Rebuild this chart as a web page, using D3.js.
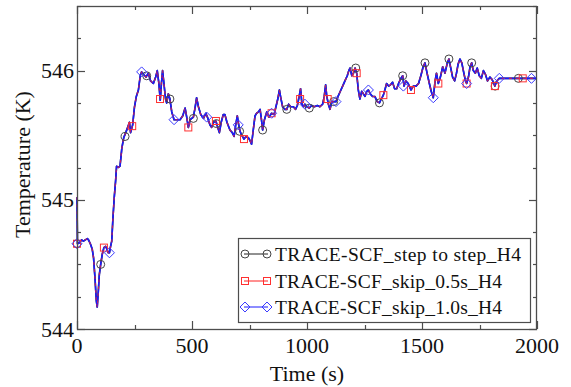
<!DOCTYPE html>
<html><head><meta charset="utf-8">
<script src="https://cdn.jsdelivr.net/npm/d3@7"></script>
<style>html,body{margin:0;padding:0;background:#fff;}svg{display:block;}</style>
</head><body><svg id="c" width="571" height="387"></svg>
<script>
// ---- data ----
const seriesNames = ["TRACE-SCF_step to step_H4", "TRACE-SCF_skip_0.5s_H4", "TRACE-SCF_skip_1.0s_H4"];
const seriesColors = ["#222222", "#ff2020", "#1a1aff"];
const xTicks = [0, 500, 1000, 1500, 2000];
const yTicks = [544, 545, 546];
const timeS = [0,2,12,20,28,36,45,50,58,66,72,78,84,88,93,97,103,110,117,124,130,136,141,146,151,156,162,168,172,180,187,195,203,212,220,228,233,242,250,258,267,275,281,290,300,310,320,332,342,349,356,362,367,372,378,385,390,397,404,412,422,435,448,460,470,477,484,492,506,514,520,528,538,550,560,567,578,585,594,604,612,619,627,636,643,652,665,675,683,690,697,703,709,716,726,735,745,752,759,767,774,781,789,796,802,807,815,825,835,846,857,865,873,880,887,894,903,912,920,929,941,950,958,966,972,978,985,991,1000,1010,1020,1032,1045,1056,1068,1075,1081,1086,1093,1100,1108,1116,1126,1135,1145,1155,1165,1175,1182,1187,1195,1202,1209,1216,1223,1230,1238,1245,1252,1260,1267,1275,1285,1295,1305,1315,1323,1332,1340,1346,1355,1363,1372,1381,1390,1398,1408,1416,1422,1430,1440,1452,1462,1474,1485,1495,1505,1513,1522,1532,1540,1549,1557,1563,1571,1580,1590,1600,1610,1617,1625,1633,1642,1650,1657,1665,1673,1682,1689,1694,1702,1709,1716,1723,1732,1740,1749,1758,1767,1776,1785,1795,1805,1812,1817,1825,1836,1850,2000];
const tempS = [545.02,544.66,544.67,544.69,544.68,544.69,544.70,544.69,544.66,544.62,544.55,544.40,544.22,544.17,544.30,544.42,544.50,544.58,544.63,544.64,544.62,544.59,544.59,544.64,544.68,544.85,545.02,545.15,545.26,545.25,545.26,545.40,545.48,545.52,545.56,545.60,545.52,545.58,545.72,545.80,545.85,545.96,545.99,545.97,545.95,545.98,545.92,545.90,545.95,546.00,545.90,545.77,545.90,546.00,545.90,545.78,545.75,545.82,545.78,545.68,545.62,545.62,545.62,545.65,545.71,545.64,545.56,545.62,545.64,545.72,545.79,545.72,545.66,545.63,545.67,545.64,545.58,545.56,545.60,545.61,545.56,545.52,545.60,545.66,545.66,545.60,545.54,545.52,545.49,545.58,545.65,545.58,545.53,545.50,545.47,545.49,545.48,545.46,545.43,545.55,545.65,545.67,545.68,545.70,545.62,545.54,545.62,545.68,545.64,545.67,545.66,545.72,545.78,545.85,545.78,545.72,545.70,545.70,545.74,545.72,545.72,545.70,545.73,545.80,545.86,545.74,545.72,545.74,545.72,545.71,545.73,545.72,545.73,545.72,545.74,545.80,545.89,545.80,545.74,545.70,545.76,545.76,545.76,545.80,545.84,545.88,545.92,545.96,546.00,546.02,545.96,545.98,546.02,545.98,545.85,545.78,545.84,545.82,545.80,545.84,545.85,545.82,545.80,545.80,545.76,545.75,545.78,545.81,545.86,545.90,545.88,545.89,545.91,545.86,545.86,545.90,545.94,545.96,545.88,545.92,545.90,545.85,545.88,545.88,545.90,545.96,546.03,546.06,545.98,545.90,545.84,545.79,545.92,545.98,545.90,545.95,546.03,545.98,546.06,546.09,546.02,545.95,545.92,545.98,546.05,546.09,546.06,545.98,545.92,545.90,545.95,546.03,546.06,546.00,545.98,546.02,545.96,545.94,546.00,545.97,545.92,545.95,545.93,545.90,545.88,545.92,545.94,545.94,545.94];
// marker points per series [time, temperature]
const stepMarksT = [0,103,209,303,404,506,606,707,807,912,1010,1116,1212,1315,1416,1513,1617,1716,1818,1919];
const stepMarksV = [544.66,544.50,545.49,545.96,545.78,545.63,545.59,545.53,545.54,545.70,545.71,545.76,546.02,545.75,545.96,546.06,546.09,546.06,545.88,545.94];
const skip05MarksT = [0,117,240,361,484,604,726,846,970,1090,1216,1332,1452,1571,1694,1817,1938];
const skip05MarksV = [544.66,544.63,545.57,545.78,545.56,545.61,545.47,545.67,545.78,545.78,545.98,545.81,545.85,545.90,545.90,545.88,545.94];
const skip10MarksT = [0,141,281,422,564,701,846,991,1126,1267,1419,1549,1694,1836,1976];
const skip10MarksV = [544.66,544.59,545.99,545.62,545.64,545.58,545.67,545.74,545.76,545.85,545.88,545.79,545.90,545.94,545.94];

// ---- layout ----
const L = 77, R = 537, T = 6, B = 329;
const FONT = "'Liberation Serif','Times New Roman',serif";
const frameCol = "#4d4d4d";
const svg = d3.select("#c");
const x = d3.scaleLinear().domain([0, 2000]).range([L, R]);
const y = d3.scaleLinear().domain([544, 546.5]).range([B, T]);

// ticks (inward), mirrored
const xMinor = d3.range(0, 2001, 250);
const yMinor = d3.range(544, 546.51, 0.25);
function isMajorX(v){ return v % 500 === 0; }
function isMajorY(v){ return Math.abs(v - Math.round(v)) < 1e-6; }
const tk = svg.append("g").attr("stroke", frameCol).attr("stroke-width", 1.2);
xMinor.forEach(v => {
  const len = isMajorX(v) ? 8 : 4;
  const xx = Math.round(x(v)) + 0.5;
  tk.append("line").attr("x1", xx).attr("x2", xx).attr("y1", B).attr("y2", B - len);
  tk.append("line").attr("x1", xx).attr("x2", xx).attr("y1", T).attr("y2", T + len);
});
yMinor.forEach(v => {
  const len = isMajorY(v) ? 8 : 4;
  const yy = Math.round(y(v)) + 0.5;
  tk.append("line").attr("x1", L).attr("x2", L + len).attr("y1", yy).attr("y2", yy);
  tk.append("line").attr("x1", R).attr("x2", R - len).attr("y1", yy).attr("y2", yy);
});

// lines
const line = d3.line().x((d, i) => x(timeS[i])).y(d => y(d));
const lg = svg.append("g").attr("fill", "none").attr("stroke-linejoin", "round");
lg.append("path").attr("d", line(tempS)).attr("stroke", seriesColors[0]).attr("stroke-width", 1.6);
lg.append("path").attr("d", line(tempS)).attr("stroke", seriesColors[2]).attr("stroke-width", 1.6);
lg.append("path").attr("d", line(tempS)).attr("stroke", seriesColors[1]).attr("stroke-width", 1.1).attr("stroke-dasharray", "3,4").attr("opacity", 0.7);

// markers
function circleM(g, cx, cy, col){ g.append("circle").attr("cx", cx).attr("cy", cy).attr("r", 4).attr("fill", "none").attr("stroke", col).attr("stroke-width", 1); }
function squareM(g, cx, cy, col){ g.append("rect").attr("x", cx - 3.5).attr("y", cy - 3.5).attr("width", 7).attr("height", 7).attr("fill", "none").attr("stroke", col).attr("stroke-width", 1); }
function diamondM(g, cx, cy, col){ g.append("path").attr("d", `M${cx-5},${cy}L${cx},${cy-5}L${cx+5},${cy}L${cx},${cy+5}Z`).attr("fill", "none").attr("stroke", col).attr("stroke-width", 1); }
const mg = svg.append("g");
stepMarksT.forEach((t, i) => circleM(mg, x(t), y(stepMarksV[i]), "#444"));
skip05MarksT.forEach((t, i) => squareM(mg, x(t), y(skip05MarksV[i]), "#ff3030"));
skip10MarksT.forEach((t, i) => diamondM(mg, x(t), y(skip10MarksV[i]), "#3a3aff"));

// frame
svg.append("rect").attr("x", L + 0.5).attr("y", T + 0.5).attr("width", R - L - 1).attr("height", B - T)
  .attr("fill", "none").attr("stroke", frameCol).attr("stroke-width", 1.3);

// tick labels
const tl = svg.append("g").attr("font-family", FONT).attr("font-size", 22).attr("fill", "#111");
xTicks.forEach(v => tl.append("text").attr("x", x(v)).attr("y", 353).attr("text-anchor", "middle").text(v));
yTicks.forEach(v => tl.append("text").attr("x", 74).attr("y", y(v) + 7.5).attr("text-anchor", "end").text(v));

// axis titles
svg.append("text").attr("x", (L + R) / 2).attr("y", 381).attr("text-anchor", "middle")
  .attr("font-family", FONT).attr("font-size", 22).attr("fill", "#111").text("Time (s)");
svg.append("text").attr("transform", `translate(30,${(T + B) / 2 - 3}) rotate(-90)`).attr("text-anchor", "middle")
  .attr("font-family", FONT).attr("font-size", 22).attr("fill", "#111").text("Temperature (K)");

// legend
const leg = svg.append("g");
leg.append("rect").attr("x", 238.5).attr("y", 238.5).attr("width", 292).attr("height", 84)
  .attr("fill", "#fff").attr("stroke", frameCol).attr("stroke-width", 1.2);
const rowsY = [254, 281, 307];
const rowLen = [246, 227, 227];
const markFns = [circleM, squareM, diamondM];
const markCols = ["#444", "#ff3030", "#3a3aff"];
seriesNames.forEach((n, i) => {
  leg.append("line").attr("x1", 244).attr("x2", 268).attr("y1", rowsY[i]).attr("y2", rowsY[i])
    .attr("stroke", seriesColors[i]).attr("stroke-width", 1);
  markFns[i](leg, 245, rowsY[i], markCols[i]);
  markFns[i](leg, 267, rowsY[i], markCols[i]);
  leg.append("text").attr("x", 275).attr("y", rowsY[i] + 6.5).attr("font-family", FONT).attr("font-size", 19.5)
    .attr("textLength", rowLen[i]).attr("lengthAdjust", "spacing")
    .attr("fill", "#111").text(n);
});
</script></body></html>
